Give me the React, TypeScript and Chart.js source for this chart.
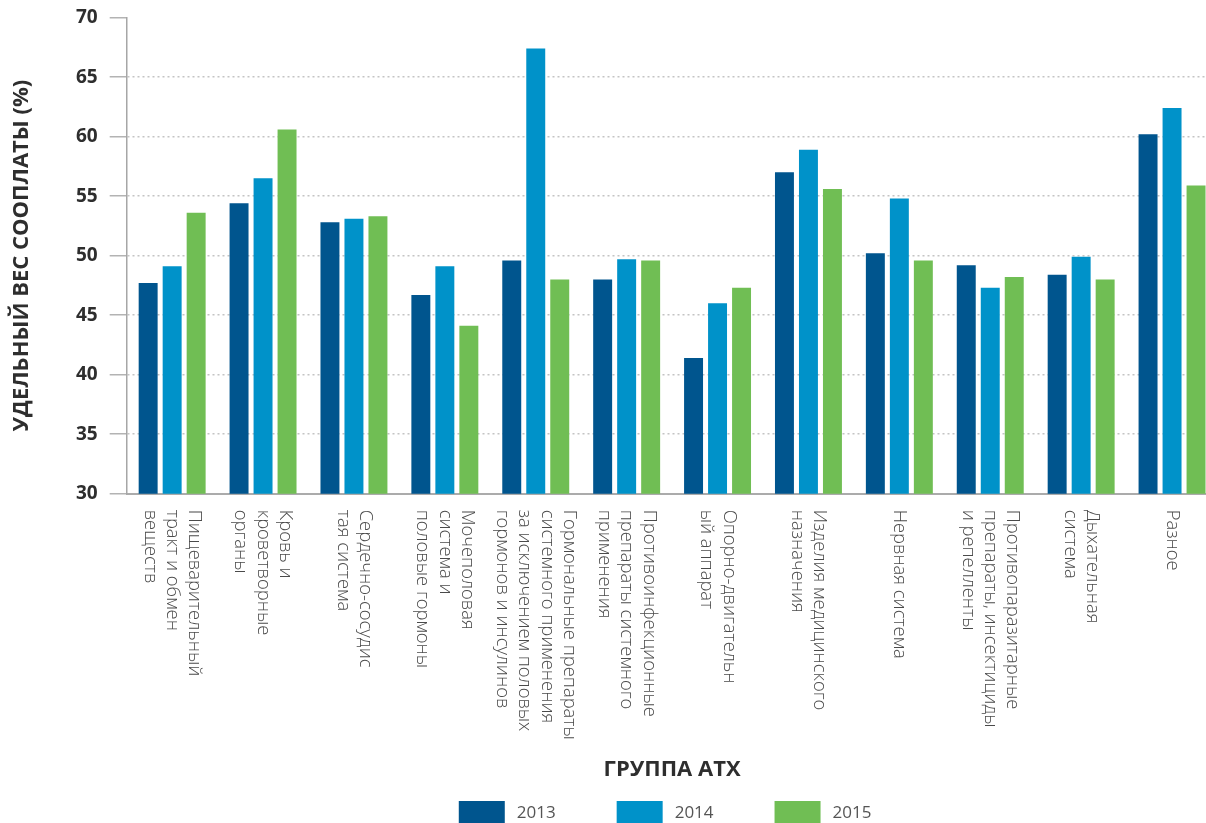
import React, { useEffect, useRef } from "react";
import { Chart, registerables } from "chart.js";

Chart.register(...registerables);

const categories: string[][] = [
  ["Пищеварительный", "тракт и обмен", "веществ"],
  ["Кровь и", "кроветворные", "органы"],
  ["Сердечно-сосудис", "тая система"],
  ["Мочеполовая", "система и", "половые гормоны"],
  ["Гормональные препараты", "системного применения", "за исключением половых", "гормонов и инсулинов"],
  ["Противоинфекционные", "препараты системного", "применения"],
  ["Опорно-двигательн", "ый аппарат"],
  ["Изделия медицинского", "назначения"],
  ["Нервная система"],
  ["Противопаразитарные", "препараты, инсектициды", "и репелленты"],
  ["Дыхательная", "система"],
  ["Разное"],
];

const seriesNames = ["2013", "2014", "2015"];
const values2013 = [47.7, 54.4, 52.8, 46.7, 49.6, 48.0, 41.4, 57.0, 50.2, 49.2, 48.4, 60.2];
const values2014 = [49.1, 56.5, 53.1, 49.1, 67.4, 49.7, 46.0, 58.9, 54.8, 47.3, 49.9, 62.4];
const values2015 = [53.6, 60.6, 53.3, 44.1, 48.0, 49.6, 47.3, 55.6, 49.6, 48.2, 48.0, 55.9];
const seriesColors = ["#00558E", "#0092C9", "#70BE54"];

const yTitle = "УДЕЛЬНЫЙ ВЕС СООПЛАТЫ (%)";
const xTitle = "ГРУППА АТХ";
const yMin = 30;
const yMax = 70;
const yStep = 5;

const FONT = "'Open Sans', 'Noto Sans', sans-serif";

const xLabelsPlugin = {
  id: "xLabelsRotated",
  afterDraw(chart: any) {
    const { ctx } = chart;
    const xs = chart.scales.x;
    const top = chart.chartArea.bottom;
    const lh = 22.4;
    ctx.save();
    ctx.fillStyle = "#4a4a4a";
    ctx.font = `300 18.4px ${FONT}`;
    ctx.textAlign = "left";
    ctx.textBaseline = "middle";
    categories.forEach((lines, i) => {
      const x = xs.getPixelForTick(i);
      const n = lines.length;
      ctx.save();
      ctx.translate(x, top + 16);
      ctx.rotate(Math.PI / 2);
      lines.forEach((line, j) => {
        ctx.fillText(line, 0, (j - (n - 1) / 2) * lh);
      });
      ctx.restore();
    });
    ctx.restore();
  },
};

const legendPlugin = {
  id: "customLegend",
  afterDraw(chart: any) {
    const { ctx } = chart;
    const boxW = 46;
    const boxH = 22;
    const gapText = 12;
    const gapItem = 61;
    ctx.save();
    ctx.font = `17px ${FONT}`;
    const widths = seriesNames.map((s) => boxW + gapText + ctx.measureText(s).width);
    const total = widths.reduce((a, b) => a + b, 0) + gapItem * (widths.length - 1);
    const cx = (chart.chartArea.left + chart.chartArea.right) / 2 - 7;
    let x = cx - total / 2;
    const y = 801;
    seriesNames.forEach((s, i) => {
      ctx.fillStyle = seriesColors[i];
      ctx.fillRect(x, y, boxW, boxH);
      ctx.fillStyle = "#555555";
      ctx.textAlign = "left";
      ctx.textBaseline = "middle";
      ctx.fillText(s, x + boxW + gapText, y + boxH / 2 + 1);
      x += widths[i] + gapItem;
    });
    ctx.restore();
  },
};

export default function App() {
  const ref = useRef<HTMLCanvasElement | null>(null);

  useEffect(() => {
    const canvas = ref.current;
    if (!canvas) return;
    const chart = new Chart(canvas, {
      type: "bar",
      data: {
        labels: categories.map((c) => c.join(" ")),
        datasets: [
          { label: seriesNames[0], data: values2013, backgroundColor: seriesColors[0] },
          { label: seriesNames[1], data: values2014, backgroundColor: seriesColors[1] },
          { label: seriesNames[2], data: values2015, backgroundColor: seriesColors[2] },
        ],
      },
      options: {
        responsive: false,
        animation: false,
        devicePixelRatio: 1,
        layout: { padding: { left: 0, right: 12.5, top: 17.6, bottom: 40 } },
        datasets: {
          bar: { categoryPercentage: 0.792, barPercentage: 0.79 },
        },
        plugins: {
          legend: { display: false },
          tooltip: { enabled: false },
        },
        scales: {
          x: {
            type: "category",
            offset: true,
            grid: { display: false },
            border: { display: true, color: "#ababab", width: 2 },
            ticks: { display: false },
            title: {
              display: true,
              text: xTitle,
              color: "#2e2e2e",
              font: { family: FONT, size: 22, weight: "bold" },
              padding: { top: 0, bottom: 0 },
            },
            afterFit: (scale: any) => {
              scale.height = 289.3;
              scale.paddingLeft = 0;
              scale.paddingRight = 0;
            },
          },
          y: {
            min: yMin,
            max: yMax,
            ticks: {
              stepSize: yStep,
              color: "#2e2e2e",
              padding: 12,
              font: { family: FONT, size: 19, weight: "bold" },
            },
            grid: {
              color: (ctx: any) =>
                ctx.tick && (ctx.tick.value === yMax || ctx.tick.value === yMin) ? "rgba(0,0,0,0)" : "#c4c4c4",
              lineWidth: 1.5,
              drawTicks: true,
              tickLength: 17,
              tickColor: "#b3b3b3",
              tickWidth: 1.5,
              tickBorderDash: [],
            },
            border: { display: true, color: "#a6a6a6", width: 1.5, dash: [2, 3] },
            title: {
              display: true,
              text: yTitle,
              color: "#2e2e2e",
              font: { family: FONT, size: 22, weight: "bold" },
              padding: { top: 9, bottom: 0 },
            },
            afterFit: (scale: any) => {
              scale.width = 126.7;
              scale.paddingTop = 0;
              scale.paddingBottom = 0;
            },
          },
        },
      },
      plugins: [xLabelsPlugin, legendPlugin],
    });
    return () => chart.destroy();
  }, []);

  return (
    <div
      style={{
        position: "fixed",
        left: 0,
        top: 0,
        width: 1206,
        height: 823,
        overflow: "hidden",
        background: "#ffffff",
      }}
    >
      <canvas ref={ref} width={1230} height={823} style={{ width: 1230, height: 823, display: "block" }} />
    </div>
  );
}
